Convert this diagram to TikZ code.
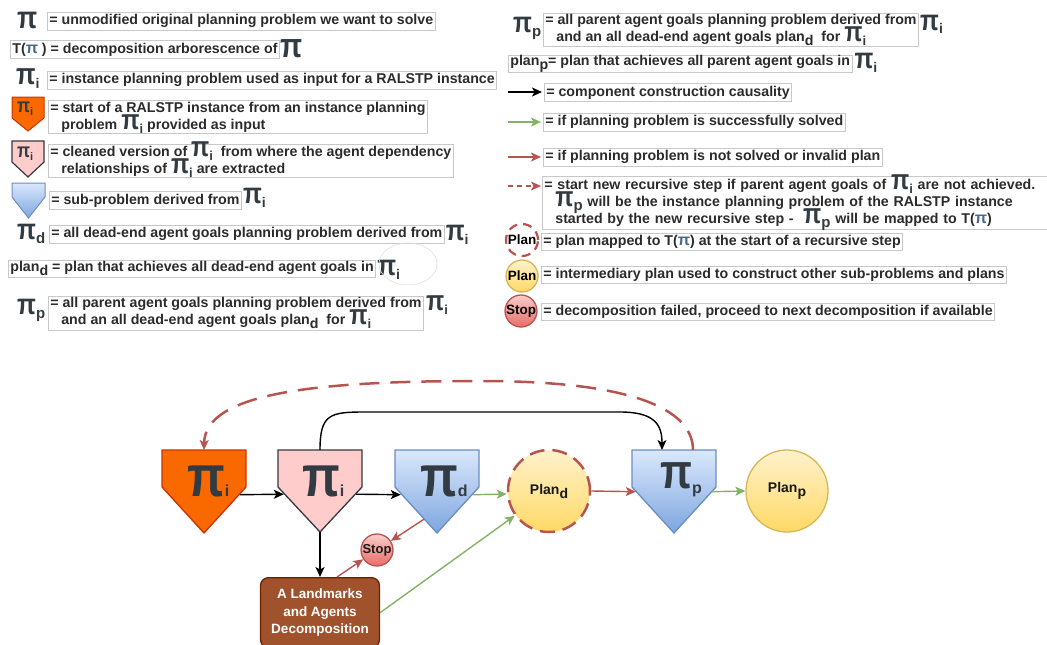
\documentclass[tikz,border=0pt]{standalone}
\usepackage{graphicx}
\usepackage{fontspec}
\setmainfont{Liberation Sans}
\usetikzlibrary{arrows.meta}
\definecolor{txt}{HTML}{2B2B2B}
\definecolor{picol}{HTML}{333B42}
\definecolor{tpi}{HTML}{4A6785}
\definecolor{boxc}{HTML}{C8C8C8}
\definecolor{orfill}{HTML}{FA6800}
\definecolor{ordraw}{HTML}{C73500}
\definecolor{pkfill}{HTML}{FFCCCC}
\definecolor{pkdraw}{HTML}{36393D}
\definecolor{bltop}{HTML}{DAE8FC}
\definecolor{blbot}{HTML}{7EA6E0}
\definecolor{bldraw}{HTML}{6C8EBF}
\definecolor{yltop}{HTML}{FFF2CC}
\definecolor{ylbot}{HTML}{FFD966}
\definecolor{yldraw}{HTML}{D6B656}
\definecolor{rdtop}{HTML}{F8CECC}
\definecolor{rdbot}{HTML}{EA6B66}
\definecolor{rddraw}{HTML}{B85450}
\definecolor{grn}{HTML}{82B366}
\definecolor{brn}{HTML}{A0522D}
\definecolor{brndraw}{HTML}{6D1F00}
\newcommand\lf{\bfseries\fontsize{14.2}{17}\selectfont}
\newcommand\PS[4]{\smash{\textcolor{picol}{\fontsize{#1}{#1}\selectfont\scalebox{0.85}[1]{π}}\raisebox{-#4pt}{\textcolor{picol}{\fontsize{#3}{#3}\selectfont #2}}}}
\newcommand\sbd[1]{\raisebox{-4pt}{#1}}
\newcommand\tp{\textcolor{tpi}{\fontsize{16}{16}\selectfont π}}
\newcommand\pent[7]{%
  \path[#7, shift={(#2,#3)}] (-#4,0) -- (#4,0) -- (#4,#5) -- (0,#6) -- (-#4,#5) -- cycle;
  \node[inner sep=0pt, minimum width=2*#4, minimum height=#6, anchor=north] (#1) at (#2,#3) {};}
\tikzset{
  lbox/.style={draw=boxc, line width=0.7pt, inner xsep=2pt, inner ysep=0pt, anchor=north west, align=left, font=\lf, text=txt, minimum height=18pt},
  pil/.style={inner sep=0pt, anchor=base west, font=\bfseries, text=picol},
  arr/.style={line width=1.4pt, -{Stealth[length=10pt,width=9pt,inset=2.5pt]}},
  blk/.style={arr, draw=black},
  grnA/.style={arr, draw=grn},
  redA/.style={arr, draw=rddraw},
  bluefill/.style={top color=bltop, bottom color=blbot, draw=bldraw, line width=1.3pt},
  yel/.style={circle, top color=yltop, bottom color=ylbot, draw=yldraw, line width=1.3pt, inner sep=0pt},
  stopc/.style={circle, top color=rdtop, bottom color=rdbot, draw=rddraw, line width=1.3pt, inner sep=0pt},
  ptxt/.style={font=\bfseries\fontsize{14}{14}\selectfont, text=black!90}
}
\begin{document}
\begin{tikzpicture}[x=1pt,y=-1pt]
\useasboundingbox (0,0) rectangle (1047,645);
\clip (0,0) rectangle (1047,645);
% ---------------- left legend
\node[pil] (K1) at (17,28) {\PS{31}{}{13}{0}};
\node[lbox] (L1) at (47,12) {= unmodified original planning problem we want to solve};
\node[lbox] (L2) at (10,40) {T(\tp\ ) = decomposition arborescence of};
\node[pil] (K2) at ([yshift=1pt]L2.south east) {\PS{34}{}{13}{0}};
\node[pil] (K3) at (16,84) {\PS{30}{i}{14}{4}};
\node[lbox] (L3) at (47,71) {= instance planning problem used as input for a RALSTP instance};
\pent{IO}{28}{97}{16}{21}{34}{fill=orfill, draw=ordraw, line width=1pt}
\node[pil] (IOl) at (17,112) {\PS{20}{i}{11}{3}};
\node[lbox, minimum height=33pt] (L4) at (48,100) {= start of a RALSTP instance from an instance planning\\\hspace*{11pt}problem \PS{28}{i}{13}{4} provided as input};
\pent{IP}{28}{141}{16}{21}{36}{fill=pkfill, draw=pkdraw, line width=1.2pt}
\node[pil] (IPl) at (17,157) {\PS{20}{i}{11}{3}};
\node[lbox, minimum height=33pt] (L5) at (48,144) {= cleaned version of \PS{28}{i}{13}{4}\ \ from where the agent dependency\\\hspace*{11pt}relationships of \PS{28}{i}{13}{4} are extracted};
\pent{IB}{28.5}{183}{16.5}{14}{35}{bluefill, line width=1pt}
\node[lbox] (L6) at (49,191) {= sub-problem derived from};
\node[pil] (K6) at ([xshift=1pt,yshift=6pt]L6.south east) {\PS{29}{i}{14}{4}};
\node[pil] (K7a) at (17,239) {\PS{29}{d}{15}{4}};
\node[lbox] (L7) at (49,225) {= all dead-end agent goals planning problem derived from};
\node[pil] (K7b) at ([xshift=1pt,yshift=3pt]L7.south east) {\PS{29}{i}{14}{4}};
\node[lbox, minimum height=17pt] (L8) at (8,260) {plan\sbd{d} = plan that achieves all dead-end agent goals in};
\node[pil] (K8) at ([xshift=1pt,yshift=2pt]L8.south east) {\PS{29}{i}{14}{4}};
\draw[draw=gray!25, line width=0.6pt] (408,264) ellipse [x radius=29, y radius=21];
\node[pil] (K9a) at (17,314) {\PS{29}{p}{15}{4}};
\node[lbox, minimum height=34pt] (L9) at (48,296) {= all parent agent goals planning problem derived from\\\hspace*{11pt}and an all dead-end agent goals plan\sbd{d}\ \ for \PS{28}{i}{13}{4}};
\node[pil] (K9b) at ([xshift=2pt,yshift=-14pt]L9.north east) {\PS{28}{i}{13}{4}};
% ---------------- right legend
\node[pil] (KR1a) at (513,32) {\PS{29}{p}{15}{4}};
\node[lbox, minimum height=33pt] (R1) at (543,13) {= all parent agent goals planning problem derived from\\\hspace*{11pt}and an all dead-end agent goals plan\sbd{d}\ \ for \PS{28}{i}{13}{4}};
\node[pil] (KR1b) at ([xshift=1pt,yshift=-17pt]R1.north east) {\PS{29}{i}{14}{4}};
\node[lbox, minimum height=17pt] (R2) at (508,55) {plan\sbd{p}= plan that achieves all parent agent goals in};
\node[pil] (KR2) at ([xshift=2pt,yshift=4pt]R2.south east) {\PS{29}{i}{14}{4}};
\coordinate (a3s) at (508,92); \coordinate (a3e) at (542,92);
\draw[blk] (a3s) -- (a3e);
\node[lbox] (R3) at (544,83) {= component construction causality};
\coordinate (a4s) at (508,122); \coordinate (a4e) at (541,122);
\draw[grnA] (a4s) -- (a4e);
\node[lbox] (R4) at (543,113) {= if planning problem is successfully solved};
\coordinate (a5s) at (508,157); \coordinate (a5e) at (541,157);
\draw[redA] (a5s) -- (a5e);
\node[lbox] (R5) at (543,148) {= if planning problem is not solved or invalid plan};
\coordinate (a6s) at (508,186); \coordinate (a6e) at (541,186);
\draw[redA, dash pattern=on 5pt off 4pt] (a6s) -- (a6e);
\node[lbox, text width=501pt, minimum height=53pt] (R6) at (542,176) {= start new recursive step if parent agent goals of \PS{28}{i}{13}{4} are not achieved.\\\hspace*{11pt}\PS{28}{p}{15}{4} will be the instance planning problem of the RALSTP instance\\\hspace*{11pt}started by the new recursive step -\ \ \PS{28}{p}{15}{4} will be mapped to T(\tp)};
\node[circle, minimum size=32pt, inner sep=0pt, draw=rddraw, line width=2.2pt, dash pattern=on 9pt off 6pt, font=\bfseries\fontsize{13.5}{13.5}\selectfont] (C7) at (522,240) {\makebox[0pt]{Plan}};
\node[lbox, minimum height=17pt] (R7) at (541,233) {= plan mapped to T(\tp) at the start of a recursive step};
\node[yel, minimum size=32pt, font=\bfseries\fontsize{13.5}{13.5}\selectfont] (C8) at (522,276) {\makebox[0pt]{Plan}};
\node[lbox, minimum height=17pt] (R8) at (541,266) {= intermediary plan used to construct other sub-problems and plans};
\node[stopc, minimum size=32pt, font=\bfseries\fontsize{13.5}{13.5}\selectfont] (C9) at (521,311) {\makebox[0pt]{Stop}};
\node[lbox, minimum height=17pt] (R9) at (541,303) {= decomposition failed, proceed to next decomposition if available};
% ---------------- diagram
\pent{O}{204}{450}{42}{37}{83}{fill=orfill, draw=ordraw, line width=1.3pt}
\pent{P}{320}{450}{42}{37}{82}{fill=pkfill, draw=pkdraw, line width=1.3pt}
\pent{D}{437}{450}{42}{37}{83}{bluefill}
\pent{Q}{674}{450}{42}{37}{83}{bluefill}
\node[pil] (Ol) at (187,496) {\PS{58}{i}{16}{0}};
\node[pil] (Pl) at (302,496) {\PS{58}{i}{16}{0}};
\node[pil] (Dl) at (420,496) {\PS{58}{d}{16}{0}};
\node[pil] (Ql) at (660,488) {\PS{49}{p}{16}{5}};
\node[yel, minimum size=82pt, draw=rddraw, line width=2.5pt, dash pattern=on 15pt off 8pt, ptxt] (pd) at (549,491) {Plan\sbd{d}};
\node[yel, minimum size=82pt, ptxt] (plp) at (787,491) {Plan\sbd{p}};
\node[stopc, minimum size=32pt, ptxt, font=\bfseries\fontsize{13}{13}\selectfont] (stop) at (377,550) {\makebox[0pt]{Stop}};
\node[draw=brndraw, fill=brn, line width=1.3pt, rounded corners=8pt, minimum width=119pt, minimum height=70pt, anchor=north, text=white, align=center, font=\bfseries\fontsize{13.5}{17.5}\selectfont] (br) at (320,577) {A Landmarks\\and Agents\\Decomposition};
\draw[blk] ([xshift=-6pt,yshift=-3pt]O.east) -- ([xshift=6pt,yshift=-3pt]P.west);
\draw[blk] ([xshift=-6pt,yshift=-3pt]P.east) -- ([xshift=6pt,yshift=-3pt]D.west);
\draw[blk] (P.south) -- (br.north);
\draw[grnA] ([xshift=-6pt,yshift=-3pt]D.east) -- ([yshift=-3pt]pd.west);
\draw[redA] (pd.east) -- ([xshift=4pt]Q.west);
\draw[grnA] ([xshift=-4pt]Q.east) -- (plp.west);
\draw[redA] ([xshift=-13pt,yshift=-27.5pt]D.center) -- (stop);
\draw[redA] ([xshift=17pt]br.north) -- (stop);
\draw[grnA] (br.east) -- (pd);
\draw[blk] (P.north) .. controls (320,414) and (330,412) .. (365,412) -- (620,412) .. controls (655,412) and (662,425) .. ([xshift=-12pt]Q.north);
\draw[redA, line width=2.5pt, dash pattern=on 20pt off 11pt] ([xshift=19pt]Q.north) .. controls (693,420) and (660,381) .. (480,381) .. controls (320,381) and (205,392) .. (O.north);
\end{tikzpicture}
\end{document}
